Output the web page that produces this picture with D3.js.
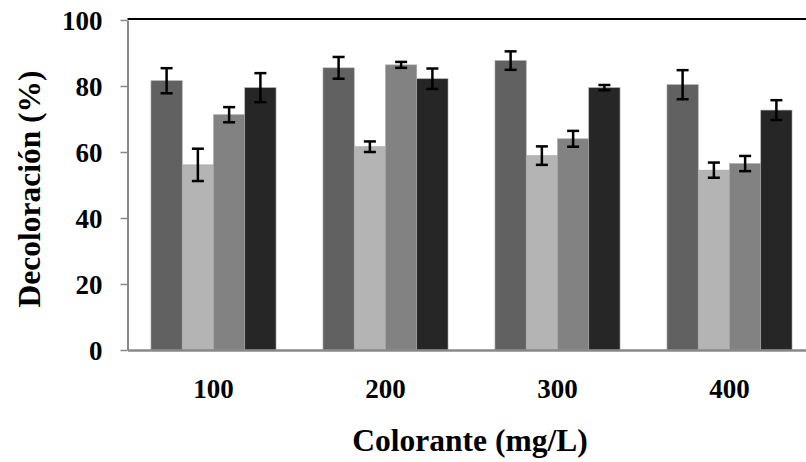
<!DOCTYPE html>
<html>
<head>
<meta charset="utf-8">
<script src="https://cdn.jsdelivr.net/npm/d3@7"></script>
<style>
  body { margin: 0; background: #fff; }
</style>
</head>
<body>
<div id="chart"></div>
<script>
// Data
const categories = ["100", "200", "300", "400"];
const seriesNames = ["s1", "s2", "s3", "s4"];
const values = [
  [81.6, 56.1, 71.3, 79.5],
  [85.5, 61.6, 86.4, 82.2],
  [87.7, 58.9, 64.0, 79.5],
  [80.4, 54.5, 56.5, 72.7]
];
const errors = [
  [3.8, 4.9, 2.3, 4.4],
  [3.3, 1.6, 0.9, 3.1],
  [2.8, 2.8, 2.4, 0.8],
  [4.4, 2.3, 2.3, 3.0]
];
const yTicks = [0, 20, 40, 60, 80, 100];
const colors = ["#616161", "#b4b4b4", "#828282", "#262626"];

const FONT = "'Liberation Serif', 'Times New Roman', Tinos, 'DejaVu Serif', serif";
const width = 806, height = 462;
const plot = { left: 127.5, right: 815.5, top: 20, bottom: 350 };

const svg = d3.select("#chart").append("svg")
    .attr("width", width).attr("height", height);

const x0 = d3.scaleBand()
    .domain(categories)
    .range([plot.left, plot.right])
    .paddingInner(0.273)
    .paddingOuter(0.1365);

const x1 = d3.scaleBand()
    .domain(seriesNames)
    .range([0, x0.bandwidth()]);

const y = d3.scaleLinear()
    .domain([0, 100])
    .range([plot.bottom, plot.top]);

// top frame line
svg.append("line")
    .attr("x1", plot.left).attr("x2", plot.right)
    .attr("y1", y(100) - 1).attr("y2", y(100) - 1)
    .attr("stroke", "#000").attr("stroke-width", 2);

// bars
const groups = svg.append("g").selectAll("g")
    .data(categories)
    .join("g")
    .attr("transform", c => `translate(${x0(c)},0)`);

const cells = (c, i) => seriesNames.map((s, j) => ({ s, j, v: values[i][j], e: errors[i][j] }));

groups.selectAll("rect")
    .data(cells)
    .join("rect")
    .attr("x", d => x1(d.s))
    .attr("width", x1.bandwidth())
    .attr("y", d => y(d.v))
    .attr("height", d => y(0) - y(d.v))
    .attr("fill", d => colors[d.j])
    .attr("stroke", "#a8a8a8")
    .attr("stroke-width", 0.6);

// error bars
const capW = 12;
const cx = d => x1(d.s) + x1.bandwidth() / 2;
const eb = groups.selectAll("g.err")
    .data(cells)
    .join("g")
    .classed("err", true)
    .attr("stroke", "#000")
    .attr("stroke-width", 2.5);

eb.append("line")
    .attr("x1", cx).attr("x2", cx)
    .attr("y1", d => y(d.v + d.e))
    .attr("y2", d => y(d.v - d.e));
eb.append("line")
    .attr("x1", d => cx(d) - capW / 2)
    .attr("x2", d => cx(d) + capW / 2)
    .attr("y1", d => y(d.v + d.e))
    .attr("y2", d => y(d.v + d.e));
eb.append("line")
    .attr("x1", d => cx(d) - capW / 2)
    .attr("x2", d => cx(d) + capW / 2)
    .attr("y1", d => y(d.v - d.e))
    .attr("y2", d => y(d.v - d.e));

// y axis
const yAxis = svg.append("g")
    .attr("transform", `translate(${plot.left},0)`)
    .call(d3.axisLeft(y).tickValues(yTicks).tickSize(7).tickPadding(18).tickSizeOuter(0));
yAxis.attr("font-family", null);
yAxis.select(".domain").attr("stroke", "#888").attr("stroke-width", 2);
yAxis.selectAll(".tick line").attr("stroke", "#888").attr("stroke-width", 1.5);
yAxis.selectAll(".tick text")
    .attr("font-family", FONT)
    .attr("font-weight", "bold")
    .attr("font-size", 27)
    .attr("dy", "0.34em");

// x axis
const xAxis = svg.append("g")
    .attr("transform", `translate(0,${plot.bottom})`)
    .call(d3.axisBottom(x0).tickSize(0).tickPadding(29).tickSizeOuter(0));
xAxis.attr("font-family", null);
xAxis.select(".domain").attr("stroke", "#888").attr("stroke-width", 2.5);
xAxis.selectAll(".tick text")
    .attr("font-family", FONT)
    .attr("font-weight", "bold")
    .attr("font-size", 27);

// axis titles
svg.append("text")
    .attr("x", 470).attr("y", 451)
    .attr("text-anchor", "middle")
    .attr("font-family", FONT)
    .attr("font-weight", "bold")
    .attr("font-size", 31.5)
    .text("Colorante (mg/L)");

svg.append("text")
    .attr("transform", "translate(40,189) rotate(-90)")
    .attr("text-anchor", "middle")
    .attr("font-family", FONT)
    .attr("font-weight", "bold")
    .attr("font-size", 31.5)
    .text("Decoloración (%)");
</script>
</body>
</html>
